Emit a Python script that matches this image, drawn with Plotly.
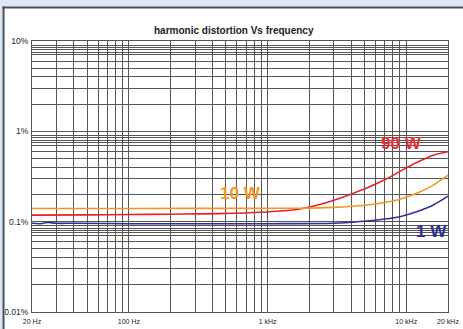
import math
import plotly.graph_objects as go

# ---- data (THD in %, frequency in Hz) ----
freq_90w = [20, 50, 100, 200, 325, 566, 985, 1710, 2980, 3930, 5190, 6820, 9000, 11880, 15660, 20000]
thd_90w = [0.118, 0.119, 0.120, 0.121, 0.122, 0.124, 0.128, 0.138, 0.172, 0.200, 0.236, 0.285, 0.360, 0.452, 0.545, 0.594]

freq_10w = [20, 100, 1000, 1710, 2980, 5190, 6820, 9000, 11880, 15660, 20000]
thd_10w = [0.140, 0.140, 0.141, 0.141, 0.144, 0.153, 0.162, 0.177, 0.206, 0.254, 0.328]

freq_1w = [20, 23, 26, 30, 40, 100, 1000, 3000, 5190, 6820, 9000, 11880, 15660, 20000]
thd_1w = [0.096, 0.095, 0.098, 0.096, 0.096, 0.095, 0.095, 0.096, 0.1017, 0.1065, 0.1136, 0.1286, 0.153, 0.192]

x_labels = {20: "20 Hz", 100: "100 Hz", 1000: "1 kHz", 10000: "10 kHz", 20000: "20 kHz"}
y_labels = {10: "10%", 1: "1%", 0.1: "0.1%", 0.01: "0.01%"}

series_names = ["90 W", "10 W", "1 W"]
series_colors = ["#e8202a", "#f7941d", "#2e3192"]

# grid positions
x_grid = []
for dec in [10, 100, 1000]:
    for m in range(1, 10):
        v = m * dec
        if 20 <= v <= 20000:
            x_grid.append(v)
x_grid += [10000, 20000]
x_grid = sorted(set(x_grid))

y_grid = []
for dec in [0.01, 0.1, 1]:
    for m in [1, 2, 3, 4, 5, 6, 7, 7.5, 8, 8.5, 9]:
        y_grid.append(round(m * dec, 6))
y_grid.append(10)
y_grid = sorted(set(y_grid))

W, H = 463, 329
L, R, T, B = 32, 448, 41, 312

fig = go.Figure()
for f, v, c, n in zip([freq_90w, freq_10w, freq_1w], [thd_90w, thd_10w, thd_1w], series_colors, series_names):
    fig.add_trace(go.Scatter(x=f, y=v, mode="lines", name=n,
                             line=dict(color=c, width=1.6, shape="spline", smoothing=0.8),
                             hoverinfo="skip"))

font = "Liberation Sans, Arial, sans-serif"

fig.update_xaxes(type="log", range=[math.log10(20), math.log10(20000)],
                 tickvals=x_grid,
                 ticktext=[x_labels.get(v, "") for v in x_grid],
                 tickangle=0, automargin=False,
                 showgrid=True, gridcolor="#555555", gridwidth=1,
                 showline=True, mirror=True, linecolor="#555555", linewidth=1,
                 ticks="", ticklabelstandoff=3,
                 tickfont=dict(family=font, size=7, color="#222222"),
                 zeroline=False, fixedrange=True)
fig.update_yaxes(type="log", range=[-2, 1],
                 tickvals=y_grid,
                 ticktext=[y_labels.get(v, "") for v in y_grid],
                 automargin=False,
                 showgrid=True, gridcolor="#555555", gridwidth=1,
                 showline=True, mirror=True, linecolor="#555555", linewidth=1,
                 ticks="", ticklabelstandoff=1,
                 tickfont=dict(family=font, size=8.5, color="#222222"),
                 zeroline=False, fixedrange=True)

def px_to_paper_x(px):
    return (px - L) / (R - L)

def px_to_paper_y(py):
    return (B - py) / (B - T)

shapes = [
    dict(type="rect", xref="paper", yref="paper",
         x0=px_to_paper_x(-5), x1=px_to_paper_x(W + 5), y0=px_to_paper_y(6.5), y1=px_to_paper_y(-5),
         fillcolor="#dce8f5", line=dict(width=0), layer="above"),
    dict(type="rect", xref="paper", yref="paper",
         x0=px_to_paper_x(-5), x1=px_to_paper_x(2.5), y0=px_to_paper_y(W), y1=px_to_paper_y(6.5),
         fillcolor="#dce8f5", line=dict(width=0), layer="above"),
    dict(type="line", xref="paper", yref="paper",
         x0=px_to_paper_x(2.5), x1=px_to_paper_x(W + 5), y0=px_to_paper_y(7.5), y1=px_to_paper_y(7.5),
         line=dict(color="#4a4f55", width=2), layer="above"),
    dict(type="line", xref="paper", yref="paper",
         x0=px_to_paper_x(3.5), x1=px_to_paper_x(3.5), y0=px_to_paper_y(6.5), y1=px_to_paper_y(W),
         line=dict(color="#4a4f55", width=2), layer="above"),
]

annotations = [
    dict(text="<b>90 W</b>", x=3.969, y=-0.1295, xref="x", yref="y", showarrow=False,
         font=dict(family=font, size=17, color="#ea2f36")),
    dict(text="<b>10 W</b>", x=2.805, y=-0.691, xref="x", yref="y", showarrow=False,
         font=dict(family=font, size=17, color="#f7941d")),
    dict(text="<b>1 W</b>", x=4.182, y=-1.109, xref="x", yref="y", showarrow=False,
         font=dict(family=font, size=17, color="#2e3192")),
    dict(text="<b>harmonic distortion Vs frequency</b>", xref="paper", yref="paper",
         x=px_to_paper_x(234), y=px_to_paper_y(30.5), showarrow=False,
         xanchor="center", yanchor="middle",
         font=dict(family=font, size=10, color="#222222")),
]

fig.update_layout(width=W, height=H,
                  margin=dict(l=L, r=W - R, t=T, b=H - B, pad=0),
                  paper_bgcolor="white", plot_bgcolor="white",
                  showlegend=False, shapes=shapes, annotations=annotations)

fig.write_html("out.html", config={"displayModeBar": False})
